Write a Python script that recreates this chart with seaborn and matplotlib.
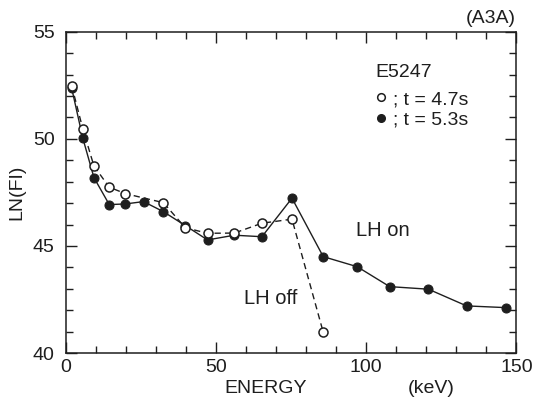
import matplotlib
matplotlib.use("Agg")
import matplotlib.pyplot as plt
from matplotlib.lines import Line2D
from matplotlib.ticker import MultipleLocator
import seaborn as sns
import pandas as pd

# Spectrum before (LH off) and during (LH on) lower-hybrid heating, shot E5247
energy_off = [2.0, 5.7, 9.4, 14.5, 19.9, 32.5, 39.8, 47.2, 56.1, 65.3, 75.3, 85.7]
ln_off = [52.48, 50.46, 48.73, 47.74, 47.44, 47.02, 45.85, 45.59, 45.60, 46.06, 46.25, 40.97]

energy_on = [2.0, 5.7, 9.4, 14.5, 19.9, 25.9, 32.5, 39.8, 47.2, 56.1, 65.3, 75.3,
             85.7, 97.0, 107.8, 120.7, 133.4, 146.4]
ln_on = [52.36, 50.03, 48.19, 46.93, 46.96, 47.07, 46.60, 45.95, 45.28, 45.50, 45.43, 47.23,
         44.50, 44.03, 43.10, 42.98, 42.20, 42.12]

x_ticks = [0, 50, 100, 150]
y_ticks = [40, 45, 50, 55]

sns.set_style("ticks")
plt.rcParams["font.family"] = ["Liberation Sans", "DejaVu Sans"]

ink = "#1e1e1e"
df_off = pd.DataFrame({"energy": energy_off, "ln": ln_off})
df_on = pd.DataFrame({"energy": energy_on, "ln": ln_on})

fig = plt.figure(figsize=(5.42, 4.03), dpi=100)
ax = fig.add_axes([0.1212, 0.124, 0.8317, 0.7973])

sns.lineplot(data=df_on, x="energy", y="ln", sort=False, ax=ax, color=ink, lw=1.0,
             marker="o", markersize=6.5, markerfacecolor=ink, markeredgecolor=ink,
             zorder=2)
sns.lineplot(data=df_off, x="energy", y="ln", sort=False, ax=ax, color=ink, lw=1.0,
             linestyle=(0, (4.5, 3.0)), marker="o", markersize=6.5,
             markerfacecolor="white", markeredgecolor=ink, markeredgewidth=1.1,
             zorder=3)

ax.set_xlim(0, 150)
ax.set_ylim(40, 55)
ax.set_xticks(x_ticks)
ax.set_yticks(y_ticks)
ax.xaxis.set_minor_locator(MultipleLocator(10))
ax.yaxis.set_minor_locator(MultipleLocator(1))
ax.tick_params(which="both", direction="in", top=True, right=True, colors=ink,
               labelsize=14, width=1.0)
ax.tick_params(which="major", length=8)
ax.tick_params(which="minor", length=5)
ax.tick_params(axis="x", pad=4)
ax.tick_params(axis="y", pad=8)
for s in ax.spines.values():
    s.set_color(ink)
    s.set_linewidth(1.1)

ax.set_xlabel("")
ax.set_ylabel("LN(FI)", fontsize=14, color=ink, labelpad=5)
fig.text(0.49, 0.035, "ENERGY", fontsize=14, color=ink, ha="center", va="center")
fig.text(0.795, 0.035, "(keV)", fontsize=14, color=ink, ha="center", va="center")
fig.text(0.905, 0.955, "(A3A)", fontsize=14, color=ink, ha="center", va="center")

ax.text(0.645, 0.38, "LH on", transform=ax.transAxes, fontsize=14.5, color=ink,
        ha="left", va="center")
ax.text(0.395, 0.17, "LH off", transform=ax.transAxes, fontsize=14.5, color=ink,
        ha="left", va="center")

handles = [
    Line2D([], [], ls="none", marker="o", markersize=5.5, markerfacecolor="white",
           markeredgecolor=ink, markeredgewidth=1.1),
    Line2D([], [], ls="none", marker="o", markersize=5.5, markerfacecolor=ink,
           markeredgecolor=ink),
]
leg = ax.legend(handles, ["; t = 4.7s", "; t = 5.3s"], title="E5247",
                loc="upper left", bbox_to_anchor=(0.665, 0.93), frameon=False,
                fontsize=14, title_fontsize=14, handlelength=0.6,
                handletextpad=0.3, labelspacing=0.15, borderpad=0.0)
leg._legend_box.align = "left"
leg._legend_box.sep = 7
for t in leg.get_texts():
    t.set_color(ink)
leg.get_title().set_color(ink)

fig.savefig("out.png", dpi=100, facecolor="white")
